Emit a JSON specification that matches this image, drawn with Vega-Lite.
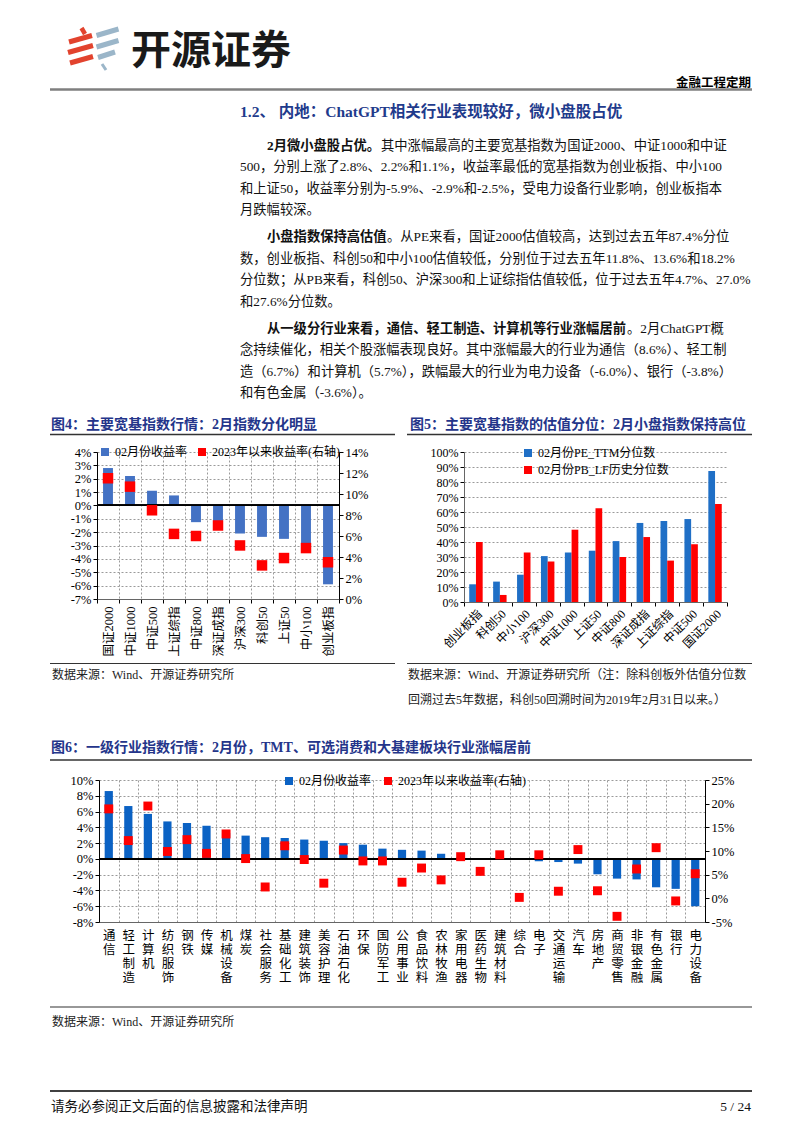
{
  "$schema": "https://vega.github.io/schema/vega-lite/v6.json",
  "padding": 0,
  "background": "white",
  "spacing": 0,
  "resolve": {"scale": {"color": "independent"}, "legend": {"color": "independent"}},
  "config": {
    "view": {"stroke": null},
    "font": "Liberation Serif, Noto Sans CJK SC",
    "text": {"font": "Liberation Serif, Noto Sans CJK SC"},
    "axis": {"labelFont": "Liberation Serif, Noto Sans CJK SC", "labelFontSize": 12.5, "labelColor": "#000", "domainColor": "#000", "tickColor": "#000", "tickSize": 4, "labelOverlap": false},
    "legend": {"labelFont": "Liberation Serif, Noto Sans CJK SC", "labelFontSize": 12, "labelColor": "#000"}
  },
  "vconcat": [
    {
      "width": 799,
      "height": 442,
      "layer": [
        {"data": {"values": [{}]}, "mark": {"type": "rule", "opacity": 0}, "encoding": {"x": {"datum": 0, "type": "quantitative", "scale": {"domain": [0, 799], "nice": false, "zero": false}, "axis": null}, "x2": {"datum": 799}, "y": {"datum": 0, "type": "quantitative", "scale": {"domain": [0, 442], "reverse": true, "nice": false, "zero": false}, "axis": null}, "y2": {"datum": 442}}},
        {"data": {"values": [{}]}, "mark": {"type": "rule", "color": "#E2432E", "strokeWidth": 4.5, "strokeCap": "butt"}, "encoding": {"x": {"datum": 81.5, "type": "quantitative", "scale": {"domain": [0, 799], "nice": false, "zero": false}, "axis": null}, "x2": {"datum": 85}, "y": {"datum": 28, "type": "quantitative", "scale": {"domain": [0, 442], "reverse": true, "nice": false, "zero": false}, "axis": null}, "y2": {"datum": 34}}},
        {"data": {"values": [{}]}, "mark": {"type": "rule", "color": "#E2432E", "strokeWidth": 5, "strokeCap": "butt"}, "encoding": {"x": {"datum": 69, "type": "quantitative", "scale": {"domain": [0, 799], "nice": false, "zero": false}, "axis": null}, "x2": {"datum": 92}, "y": {"datum": 42, "type": "quantitative", "scale": {"domain": [0, 442], "reverse": true, "nice": false, "zero": false}, "axis": null}, "y2": {"datum": 35.5}}},
        {"data": {"values": [{}]}, "mark": {"type": "rule", "color": "#E2432E", "strokeWidth": 5, "strokeCap": "butt"}, "encoding": {"x": {"datum": 68, "type": "quantitative", "scale": {"domain": [0, 799], "nice": false, "zero": false}, "axis": null}, "x2": {"datum": 93}, "y": {"datum": 52.5, "type": "quantitative", "scale": {"domain": [0, 442], "reverse": true, "nice": false, "zero": false}, "axis": null}, "y2": {"datum": 45.5}}},
        {"data": {"values": [{}]}, "mark": {"type": "rule", "color": "#E2432E", "strokeWidth": 5, "strokeCap": "butt"}, "encoding": {"x": {"datum": 70, "type": "quantitative", "scale": {"domain": [0, 799], "nice": false, "zero": false}, "axis": null}, "x2": {"datum": 93}, "y": {"datum": 63, "type": "quantitative", "scale": {"domain": [0, 442], "reverse": true, "nice": false, "zero": false}, "axis": null}, "y2": {"datum": 56.5}}},
        {"data": {"values": [{}]}, "mark": {"type": "rule", "color": "#9BB6C9", "strokeWidth": 5, "strokeCap": "butt"}, "encoding": {"x": {"datum": 96.5, "type": "quantitative", "scale": {"domain": [0, 799], "nice": false, "zero": false}, "axis": null}, "x2": {"datum": 118.5}, "y": {"datum": 35.5, "type": "quantitative", "scale": {"domain": [0, 442], "reverse": true, "nice": false, "zero": false}, "axis": null}, "y2": {"datum": 29}}},
        {"data": {"values": [{}]}, "mark": {"type": "rule", "color": "#9BB6C9", "strokeWidth": 5, "strokeCap": "butt"}, "encoding": {"x": {"datum": 96.5, "type": "quantitative", "scale": {"domain": [0, 799], "nice": false, "zero": false}, "axis": null}, "x2": {"datum": 118.5}, "y": {"datum": 47, "type": "quantitative", "scale": {"domain": [0, 442], "reverse": true, "nice": false, "zero": false}, "axis": null}, "y2": {"datum": 40.5}}},
        {"data": {"values": [{}]}, "mark": {"type": "rule", "color": "#9BB6C9", "strokeWidth": 5, "strokeCap": "butt"}, "encoding": {"x": {"datum": 98, "type": "quantitative", "scale": {"domain": [0, 799], "nice": false, "zero": false}, "axis": null}, "x2": {"datum": 115}, "y": {"datum": 57.5, "type": "quantitative", "scale": {"domain": [0, 442], "reverse": true, "nice": false, "zero": false}, "axis": null}, "y2": {"datum": 52}}},
        {"data": {"values": [{}]}, "mark": {"type": "rule", "color": "#9BB6C9", "strokeWidth": 3, "strokeCap": "butt"}, "encoding": {"x": {"datum": 102, "type": "quantitative", "scale": {"domain": [0, 799], "nice": false, "zero": false}, "axis": null}, "x2": {"datum": 106}, "y": {"datum": 64, "type": "quantitative", "scale": {"domain": [0, 442], "reverse": true, "nice": false, "zero": false}, "axis": null}, "y2": {"datum": 70}}},
        {"data": {"values": [{"t": "开源证券"}]}, "mark": {"type": "text", "align": "left", "baseline": "top", "font": "Noto Sans CJK SC", "fontSize": 40, "fontWeight": "bold", "color": "#1a1a1a"}, "encoding": {"x": {"datum": 131, "type": "quantitative", "scale": {"domain": [0, 799], "nice": false, "zero": false}, "axis": null}, "y": {"datum": 32, "type": "quantitative", "scale": {"domain": [0, 442], "reverse": true, "nice": false, "zero": false}, "axis": null}, "text": {"field": "t", "type": "nominal"}}},
        {"data": {"values": [{"t": "金融工程定期"}]}, "mark": {"type": "text", "align": "right", "baseline": "top", "font": "Noto Sans CJK SC", "fontSize": 12.5, "fontWeight": "bold", "color": "#000"}, "encoding": {"x": {"datum": 751, "type": "quantitative", "scale": {"domain": [0, 799], "nice": false, "zero": false}, "axis": null}, "y": {"datum": 76.5, "type": "quantitative", "scale": {"domain": [0, 442], "reverse": true, "nice": false, "zero": false}, "axis": null}, "text": {"field": "t", "type": "nominal"}}},
        {"data": {"values": [{}]}, "mark": {"type": "rule", "color": "#7f7f7f", "strokeWidth": 2.5}, "encoding": {"x": {"datum": 50, "type": "quantitative", "scale": {"domain": [0, 799], "nice": false, "zero": false}, "axis": null}, "x2": {"datum": 752}, "y": {"datum": 89.5, "type": "quantitative", "scale": {"domain": [0, 442], "reverse": true, "nice": false, "zero": false}, "axis": null}}},
        {"data": {"values": [{"t": "1.2、 内地：ChatGPT相关行业表现较好，微小盘股占优"}]}, "mark": {"type": "text", "align": "left", "baseline": "top", "fontSize": 15.5, "fontWeight": "bold", "color": "#1F3B8C"}, "encoding": {"x": {"datum": 240, "type": "quantitative", "scale": {"domain": [0, 799], "nice": false, "zero": false}, "axis": null}, "y": {"datum": 104.5, "type": "quantitative", "scale": {"domain": [0, 442], "reverse": true, "nice": false, "zero": false}, "axis": null}, "text": {"field": "t", "type": "nominal"}}},
        {"data": {"values": [{"t": "2月微小盘股占优。"}]}, "mark": {"type": "text", "align": "left", "baseline": "top", "fontSize": 13.3, "fontWeight": "bold", "color": "#111"}, "encoding": {"x": {"datum": 267, "type": "quantitative", "scale": {"domain": [0, 799], "nice": false, "zero": false}, "axis": null}, "y": {"datum": 138.5, "type": "quantitative", "scale": {"domain": [0, 442], "reverse": true, "nice": false, "zero": false}, "axis": null}, "text": {"field": "t", "type": "nominal"}}},
        {"data": {"values": [{"t": "其中涨幅最高的主要宽基指数为国证2000、中证1000和中证"}]}, "mark": {"type": "text", "align": "left", "baseline": "top", "fontSize": 13.3, "color": "#111"}, "encoding": {"x": {"datum": 381, "type": "quantitative", "scale": {"domain": [0, 799], "nice": false, "zero": false}, "axis": null}, "y": {"datum": 138.5, "type": "quantitative", "scale": {"domain": [0, 442], "reverse": true, "nice": false, "zero": false}, "axis": null}, "text": {"field": "t", "type": "nominal"}}},
        {"data": {"values": [{"t": ["500，分别上涨了2.8%、2.2%和1.1%，收益率最低的宽基指数为创业板指、中小100", "和上证50，收益率分别为-5.9%、-2.9%和-2.5%，受电力设备行业影响，创业板指本", "月跌幅较深。"]}]}, "mark": {"type": "text", "align": "left", "baseline": "top", "fontSize": 13.3, "lineHeight": 21.5, "color": "#111"}, "encoding": {"x": {"datum": 240, "type": "quantitative", "scale": {"domain": [0, 799], "nice": false, "zero": false}, "axis": null}, "y": {"datum": 160, "type": "quantitative", "scale": {"domain": [0, 442], "reverse": true, "nice": false, "zero": false}, "axis": null}, "text": {"field": "t", "type": "nominal"}}},
        {"data": {"values": [{"t": "小盘指数保持高估值"}]}, "mark": {"type": "text", "align": "left", "baseline": "top", "fontSize": 13.3, "fontWeight": "bold", "color": "#111"}, "encoding": {"x": {"datum": 267, "type": "quantitative", "scale": {"domain": [0, 799], "nice": false, "zero": false}, "axis": null}, "y": {"datum": 230, "type": "quantitative", "scale": {"domain": [0, 442], "reverse": true, "nice": false, "zero": false}, "axis": null}, "text": {"field": "t", "type": "nominal"}}},
        {"data": {"values": [{"t": "。从PE来看，国证2000估值较高，达到过去五年87.4%分位"}]}, "mark": {"type": "text", "align": "left", "baseline": "top", "fontSize": 13.3, "color": "#111"}, "encoding": {"x": {"datum": 387, "type": "quantitative", "scale": {"domain": [0, 799], "nice": false, "zero": false}, "axis": null}, "y": {"datum": 230, "type": "quantitative", "scale": {"domain": [0, 442], "reverse": true, "nice": false, "zero": false}, "axis": null}, "text": {"field": "t", "type": "nominal"}}},
        {"data": {"values": [{"t": ["数，创业板指、科创50和中小100估值较低，分别位于过去五年11.8%、13.6%和18.2%", "分位数；从PB来看，科创50、沪深300和上证综指估值较低，位于过去五年4.7%、27.0%", "和27.6%分位数。"]}]}, "mark": {"type": "text", "align": "left", "baseline": "top", "fontSize": 13.3, "lineHeight": 21.5, "color": "#111"}, "encoding": {"x": {"datum": 240, "type": "quantitative", "scale": {"domain": [0, 799], "nice": false, "zero": false}, "axis": null}, "y": {"datum": 251.5, "type": "quantitative", "scale": {"domain": [0, 442], "reverse": true, "nice": false, "zero": false}, "axis": null}, "text": {"field": "t", "type": "nominal"}}},
        {"data": {"values": [{"t": "从一级分行业来看，通信、轻工制造、计算机等行业涨幅居前"}]}, "mark": {"type": "text", "align": "left", "baseline": "top", "fontSize": 13.3, "fontWeight": "bold", "color": "#111"}, "encoding": {"x": {"datum": 267, "type": "quantitative", "scale": {"domain": [0, 799], "nice": false, "zero": false}, "axis": null}, "y": {"datum": 321.5, "type": "quantitative", "scale": {"domain": [0, 442], "reverse": true, "nice": false, "zero": false}, "axis": null}, "text": {"field": "t", "type": "nominal"}}},
        {"data": {"values": [{"t": "。2月ChatGPT概"}]}, "mark": {"type": "text", "align": "left", "baseline": "top", "fontSize": 13.3, "color": "#111"}, "encoding": {"x": {"datum": 627, "type": "quantitative", "scale": {"domain": [0, 799], "nice": false, "zero": false}, "axis": null}, "y": {"datum": 321.5, "type": "quantitative", "scale": {"domain": [0, 442], "reverse": true, "nice": false, "zero": false}, "axis": null}, "text": {"field": "t", "type": "nominal"}}},
        {"data": {"values": [{"t": ["念持续催化，相关个股涨幅表现良好。其中涨幅最大的行业为通信（8.6%）、轻工制", "造（6.7%）和计算机（5.7%），跌幅最大的行业为电力设备（-6.0%）、银行（-3.8%）", "和有色金属（-3.6%）。"]}]}, "mark": {"type": "text", "align": "left", "baseline": "top", "fontSize": 13.3, "lineHeight": 21.5, "color": "#111"}, "encoding": {"x": {"datum": 240, "type": "quantitative", "scale": {"domain": [0, 799], "nice": false, "zero": false}, "axis": null}, "y": {"datum": 343, "type": "quantitative", "scale": {"domain": [0, 442], "reverse": true, "nice": false, "zero": false}, "axis": null}, "text": {"field": "t", "type": "nominal"}}},
        {"data": {"values": [{"t": "图4：主要宽基指数行情：2月指数分化明显"}]}, "mark": {"type": "text", "align": "left", "baseline": "top", "fontSize": 14, "fontWeight": "bold", "color": "#24358A"}, "encoding": {"x": {"datum": 51, "type": "quantitative", "scale": {"domain": [0, 799], "nice": false, "zero": false}, "axis": null}, "y": {"datum": 418, "type": "quantitative", "scale": {"domain": [0, 442], "reverse": true, "nice": false, "zero": false}, "axis": null}, "text": {"field": "t", "type": "nominal"}}},
        {"data": {"values": [{"t": "图5：主要宽基指数的估值分位：2月小盘指数保持高位"}]}, "mark": {"type": "text", "align": "left", "baseline": "top", "fontSize": 14, "fontWeight": "bold", "color": "#24358A"}, "encoding": {"x": {"datum": 410, "type": "quantitative", "scale": {"domain": [0, 799], "nice": false, "zero": false}, "axis": null}, "y": {"datum": 418, "type": "quantitative", "scale": {"domain": [0, 442], "reverse": true, "nice": false, "zero": false}, "axis": null}, "text": {"field": "t", "type": "nominal"}}},
        {"data": {"values": [{}]}, "mark": {"type": "rule", "color": "#333", "strokeWidth": 1.3}, "encoding": {"x": {"datum": 50, "type": "quantitative", "scale": {"domain": [0, 799], "nice": false, "zero": false}, "axis": null}, "x2": {"datum": 395}, "y": {"datum": 434.5, "type": "quantitative", "scale": {"domain": [0, 442], "reverse": true, "nice": false, "zero": false}, "axis": null}}},
        {"data": {"values": [{}]}, "mark": {"type": "rule", "color": "#333", "strokeWidth": 1.3}, "encoding": {"x": {"datum": 407, "type": "quantitative", "scale": {"domain": [0, 799], "nice": false, "zero": false}, "axis": null}, "x2": {"datum": 752}, "y": {"datum": 434.5, "type": "quantitative", "scale": {"domain": [0, 442], "reverse": true, "nice": false, "zero": false}, "axis": null}}}
      ]
    },
    {
      "bounds": "flush",
      "spacing": 0,
      "resolve": {"scale": {"color": "independent"}, "legend": {"color": "independent"}},
      "hconcat": [
        {
          "width": 97,
          "height": 150,
          "data": {"values": [{}]},
          "mark": {"type": "rule", "opacity": 0},
          "encoding": {"x": {"datum": 0, "type": "quantitative", "scale": {"domain": [0, 97], "nice": false, "zero": false}, "axis": null}, "x2": {"datum": 97}, "y": {"datum": -10, "type": "quantitative", "scale": {"domain": [0, 150], "reverse": true, "nice": false, "zero": false}, "axis": null}, "y2": {"datum": 210}}
        },
        {
          "width": 242,
          "height": 147,
          "data": {"values": [
            {"name": "国证2000", "feb": 2.8, "ytd": 11.5},
            {"name": "中证1000", "feb": 2.2, "ytd": 10.7},
            {"name": "中证500", "feb": 1.1, "ytd": 8.45},
            {"name": "上证综指", "feb": 0.75, "ytd": 6.2},
            {"name": "中证800", "feb": -1.25, "ytd": 6.0},
            {"name": "深证成指", "feb": -1.8, "ytd": 7.0},
            {"name": "沪深300", "feb": -2.1, "ytd": 5.1},
            {"name": "科创50", "feb": -2.35, "ytd": 3.2},
            {"name": "上证50", "feb": -2.5, "ytd": 3.9},
            {"name": "中小100", "feb": -2.9, "ytd": 4.85},
            {"name": "创业板指", "feb": -5.9, "ytd": 3.5}
          ]},
          "layer": [
            {
              "mark": {"type": "bar", "width": {"band": 0.45}},
              "encoding": {
                "x": {"field": "name", "type": "nominal", "sort": null, "scale": {"paddingInner": 0, "paddingOuter": 0}, "axis": {"title": null, "labelAngle": -90, "labelFontSize": 12.5, "labelPadding": 3, "tickBand": "extent", "grid": true, "gridDash": [2, 2], "gridColor": "#9a9a9a", "domainColor": "#666", "tickSize": 4, "labelOverlap": false}},
                "y": {"field": "feb", "type": "quantitative", "scale": {"domain": [-7, 4], "nice": false}, "axis": {"title": null, "orient": "left", "values": [-7, -6, -5, -4, -3, -2, -1, 0, 1, 2, 3, 4], "labelExpr": "datum.value + '%'", "grid": true, "gridDash": [2, 2], "gridColor": "#9a9a9a", "labelPadding": 2, "labelOverlap": false, "labelFlush": false}},
                "color": {"datum": "02月份收益率", "type": "nominal", "scale": {"domain": ["02月份收益率", "2023年以来收益率(右轴)"], "range": ["#4472C4", "#FF0000"]}, "legend": {"title": null, "orient": "none", "legendX": 2, "legendY": -6, "direction": "horizontal", "columns": 2, "columnPadding": 8, "symbolType": "square", "symbolSize": 64, "symbolStrokeWidth": 0, "labelFontSize": 12}}
              }
            },
            {"mark": {"type": "rule", "color": "#000", "strokeWidth": 1.2}, "encoding": {"y": {"datum": 0, "type": "quantitative", "scale": {"domain": [-7, 4], "nice": false}, "axis": null}}},
            {
              "mark": {"type": "square", "size": 110, "opacity": 1},
              "encoding": {
                "x": {"field": "name", "type": "nominal", "sort": null},
                "y": {"field": "ytd", "type": "quantitative", "scale": {"domain": [0, 14], "nice": false}, "axis": {"title": null, "orient": "right", "values": [0, 2, 4, 6, 8, 10, 12, 14], "labelExpr": "datum.value + '%'", "grid": false, "labelOverlap": false, "labelFlush": false}},
                "color": {"datum": "2023年以来收益率(右轴)", "type": "nominal"}
              }
            }
          ],
          "resolve": {"scale": {"y": "independent"}}
        },
        {"width": 125, "height": 150, "data": {"values": []}, "mark": "point"},
        {
          "width": 263,
          "height": 150,
          "data": {"values": [
            {"name": "创业板指", "series": "02月份PE_TTM分位数", "v": 11.8},
            {"name": "创业板指", "series": "02月份PB_LF历史分位数", "v": 40.0},
            {"name": "科创50", "series": "02月份PE_TTM分位数", "v": 13.6},
            {"name": "科创50", "series": "02月份PB_LF历史分位数", "v": 4.7},
            {"name": "中小100", "series": "02月份PE_TTM分位数", "v": 18.2},
            {"name": "中小100", "series": "02月份PB_LF历史分位数", "v": 33.0},
            {"name": "沪深300", "series": "02月份PE_TTM分位数", "v": 30.6},
            {"name": "沪深300", "series": "02月份PB_LF历史分位数", "v": 27.0},
            {"name": "中证1000", "series": "02月份PE_TTM分位数", "v": 33.0},
            {"name": "中证1000", "series": "02月份PB_LF历史分位数", "v": 48.2},
            {"name": "上证50", "series": "02月份PE_TTM分位数", "v": 34.2},
            {"name": "上证50", "series": "02月份PB_LF历史分位数", "v": 62.5},
            {"name": "中证800", "series": "02月份PE_TTM分位数", "v": 40.6},
            {"name": "中证800", "series": "02月份PB_LF历史分位数", "v": 30.0},
            {"name": "深证成指", "series": "02月份PE_TTM分位数", "v": 52.7},
            {"name": "深证成指", "series": "02月份PB_LF历史分位数", "v": 43.3},
            {"name": "上证综指", "series": "02月份PE_TTM分位数", "v": 54.0},
            {"name": "上证综指", "series": "02月份PB_LF历史分位数", "v": 27.6},
            {"name": "中证500", "series": "02月份PE_TTM分位数", "v": 55.3},
            {"name": "中证500", "series": "02月份PB_LF历史分位数", "v": 38.5},
            {"name": "国证2000", "series": "02月份PE_TTM分位数", "v": 87.4},
            {"name": "国证2000", "series": "02月份PB_LF历史分位数", "v": 65.4}
          ]},
          "mark": {"type": "bar"},
          "encoding": {
            "x": {"field": "name", "type": "nominal", "sort": null, "scale": {"paddingInner": 0, "paddingOuter": 0}, "axis": {"title": null, "labelAngle": -45, "tickBand": "extent", "grid": false, "domainColor": "#666", "labelFontSize": 12, "labelOverlap": false, "labelPadding": 2, "tickSize": 4}},
            "xOffset": {"field": "series", "type": "nominal", "sort": null, "scale": {"paddingInner": 0, "paddingOuter": 0.78}},
            "y": {"field": "v", "type": "quantitative", "scale": {"domain": [0, 100], "nice": false}, "axis": {"title": null, "values": [0, 10, 20, 30, 40, 50, 60, 70, 80, 90, 100], "labelExpr": "datum.value + '%'", "grid": true, "gridDash": [2, 2], "gridColor": "#9a9a9a", "labelFontSize": 12, "domainColor": "#666", "labelOverlap": false, "labelFlush": false}},
            "color": {"field": "series", "type": "nominal", "sort": null, "scale": {"domain": ["02月份PE_TTM分位数", "02月份PB_LF历史分位数"], "range": ["#1F6FC6", "#FF0000"]}, "legend": {"title": null, "orient": "none", "legendX": 58, "legendY": -5, "direction": "vertical", "columns": 1, "rowPadding": 5, "symbolType": "square", "symbolSize": 64, "symbolStrokeWidth": 0, "labelFontSize": 12}}
          }
        }
      ]
    },
    {
      "width": 799,
      "height": 108,
      "layer": [
        {"data": {"values": [{}]}, "mark": {"type": "rule", "opacity": 0}, "encoding": {"x": {"datum": 0, "type": "quantitative", "scale": {"domain": [0, 799], "nice": false, "zero": false}, "axis": null}, "x2": {"datum": 799}, "y": {"datum": 0, "type": "quantitative", "scale": {"domain": [0, 108], "reverse": true, "nice": false, "zero": false}, "axis": null}, "y2": {"datum": 108}}},
        {"data": {"values": [{}]}, "mark": {"type": "rule", "color": "#333", "strokeWidth": 1.2}, "encoding": {"x": {"datum": 50, "type": "quantitative", "scale": {"domain": [0, 799], "nice": false, "zero": false}, "axis": null}, "x2": {"datum": 395}, "y": {"datum": 1.5, "type": "quantitative", "scale": {"domain": [0, 108], "reverse": true, "nice": false, "zero": false}, "axis": null}}},
        {"data": {"values": [{}]}, "mark": {"type": "rule", "color": "#333", "strokeWidth": 1.2}, "encoding": {"x": {"datum": 407, "type": "quantitative", "scale": {"domain": [0, 799], "nice": false, "zero": false}, "axis": null}, "x2": {"datum": 752}, "y": {"datum": 1.5, "type": "quantitative", "scale": {"domain": [0, 108], "reverse": true, "nice": false, "zero": false}, "axis": null}}},
        {"data": {"values": [{"t": "数据来源：Wind、开源证券研究所"}]}, "mark": {"type": "text", "align": "left", "baseline": "top", "fontSize": 12, "color": "#222"}, "encoding": {"x": {"datum": 52, "type": "quantitative", "scale": {"domain": [0, 799], "nice": false, "zero": false}, "axis": null}, "y": {"datum": 8, "type": "quantitative", "scale": {"domain": [0, 108], "reverse": true, "nice": false, "zero": false}, "axis": null}, "text": {"field": "t", "type": "nominal"}}},
        {"data": {"values": [{"t": ["数据来源：Wind、开源证券研究所（注：除科创板外估值分位数", "回溯过去5年数据，科创50回溯时间为2019年2月31日以来。）"]}]}, "mark": {"type": "text", "align": "left", "baseline": "top", "fontSize": 12, "lineHeight": 25, "color": "#222"}, "encoding": {"x": {"datum": 408, "type": "quantitative", "scale": {"domain": [0, 799], "nice": false, "zero": false}, "axis": null}, "y": {"datum": 8, "type": "quantitative", "scale": {"domain": [0, 108], "reverse": true, "nice": false, "zero": false}, "axis": null}, "text": {"field": "t", "type": "nominal"}}},
        {"data": {"values": [{"t": "图6：一级行业指数行情：2月份，TMT、可选消费和大基建板块行业涨幅居前"}]}, "mark": {"type": "text", "align": "left", "baseline": "top", "fontSize": 14, "fontWeight": "bold", "color": "#24358A"}, "encoding": {"x": {"datum": 51, "type": "quantitative", "scale": {"domain": [0, 799], "nice": false, "zero": false}, "axis": null}, "y": {"datum": 79, "type": "quantitative", "scale": {"domain": [0, 108], "reverse": true, "nice": false, "zero": false}, "axis": null}, "text": {"field": "t", "type": "nominal"}}},
        {"data": {"values": [{}]}, "mark": {"type": "rule", "color": "#333", "strokeWidth": 1.3}, "encoding": {"x": {"datum": 50, "type": "quantitative", "scale": {"domain": [0, 799], "nice": false, "zero": false}, "axis": null}, "x2": {"datum": 752}, "y": {"datum": 98, "type": "quantitative", "scale": {"domain": [0, 108], "reverse": true, "nice": false, "zero": false}, "axis": null}}}
      ]
    },
    {
      "bounds": "flush",
      "spacing": 0,
      "resolve": {"scale": {"color": "independent"}, "legend": {"color": "independent"}},
      "hconcat": [
        {
          "width": 99,
          "height": 142,
          "data": {"values": [{}]},
          "mark": {"type": "rule", "opacity": 0},
          "encoding": {"x": {"datum": 0, "type": "quantitative", "scale": {"domain": [0, 99], "nice": false, "zero": false}, "axis": null}, "x2": {"datum": 99}, "y": {"datum": -10, "type": "quantitative", "scale": {"domain": [0, 142], "reverse": true, "nice": false, "zero": false}, "axis": null}, "y2": {"datum": 212}}
        },
        {
          "width": 606,
          "height": 142,
          "data": {"values": [
            {"name": "通信", "feb": 8.6, "ytd": 18.9},
            {"name": "轻工制造", "feb": 6.7, "ytd": 12.2},
            {"name": "计算机", "feb": 5.7, "ytd": 19.5},
            {"name": "纺织服饰", "feb": 4.75, "ytd": 9.9},
            {"name": "钢铁", "feb": 4.55, "ytd": 12.4},
            {"name": "传媒", "feb": 4.2, "ytd": 9.5},
            {"name": "机械设备", "feb": 3.3, "ytd": 13.6},
            {"name": "煤炭", "feb": 2.95, "ytd": 8.4},
            {"name": "社会服务", "feb": 2.75, "ytd": 2.4},
            {"name": "基础化工", "feb": 2.65, "ytd": 11.1},
            {"name": "建筑装饰", "feb": 2.45, "ytd": 8.2},
            {"name": "美容护理", "feb": 2.3, "ytd": 3.2},
            {"name": "石油石化", "feb": 2.0, "ytd": 10.2},
            {"name": "环保", "feb": 1.8, "ytd": 7.9},
            {"name": "国防军工", "feb": 1.3, "ytd": 7.9},
            {"name": "公用事业", "feb": 1.15, "ytd": 3.4},
            {"name": "食品饮料", "feb": 1.05, "ytd": 6.4},
            {"name": "农林牧渔", "feb": 0.65, "ytd": 3.9},
            {"name": "家用电器", "feb": 0.25, "ytd": 8.8},
            {"name": "医药生物", "feb": 0.1, "ytd": 5.7},
            {"name": "建筑材料", "feb": 0.05, "ytd": 9.2},
            {"name": "综合", "feb": 0.0, "ytd": 0.2},
            {"name": "电子", "feb": -0.3, "ytd": 9.2},
            {"name": "交通运输", "feb": -0.4, "ytd": 1.5},
            {"name": "汽车", "feb": -0.6, "ytd": 10.3},
            {"name": "房地产", "feb": -1.95, "ytd": 1.6},
            {"name": "商贸零售", "feb": -2.5, "ytd": -3.8},
            {"name": "非银金融", "feb": -2.6, "ytd": 6.2},
            {"name": "有色金属", "feb": -3.6, "ytd": 10.7},
            {"name": "银行", "feb": -3.8, "ytd": -0.55},
            {"name": "电力设备", "feb": -6.0, "ytd": 5.2}
          ]},
          "layer": [
            {
              "mark": {"type": "bar", "width": {"band": 0.42}},
              "encoding": {
                "x": {"field": "name", "type": "nominal", "sort": null, "scale": {"paddingInner": 0, "paddingOuter": 0}, "axis": {"title": null, "labelAngle": 0, "labelExpr": "split(datum.label, '')", "labelBaseline": "top", "labelAlign": "center", "labelLineHeight": 14, "labelFontSize": 12.5, "labelPadding": 7, "tickBand": "extent", "ticks": false, "grid": true, "gridDash": [2, 2], "gridColor": "#9a9a9a", "domainColor": "#666", "labelOverlap": false, "labelBound": false}},
                "y": {"field": "feb", "type": "quantitative", "scale": {"domain": [-8, 10], "nice": false}, "axis": {"title": null, "orient": "left", "values": [-8, -6, -4, -2, 0, 2, 4, 6, 8, 10], "labelExpr": "datum.value + '%'", "grid": true, "gridDash": [2, 2], "gridColor": "#9a9a9a", "labelPadding": 2, "labelOverlap": false, "labelFlush": false}},
                "color": {"datum": "02月份收益率", "type": "nominal", "scale": {"domain": ["02月份收益率", "2023年以来收益率(右轴)"], "range": ["#0B62C4", "#FF0000"]}, "legend": {"title": null, "orient": "none", "legendX": 184, "legendY": -5, "direction": "horizontal", "columns": 2, "columnPadding": 10, "symbolType": "square", "symbolSize": 64, "symbolStrokeWidth": 0, "labelFontSize": 12}}
              }
            },
            {"mark": {"type": "rule", "color": "#000", "strokeWidth": 1.2}, "encoding": {"y": {"datum": 0, "type": "quantitative", "scale": {"domain": [-8, 10], "nice": false}, "axis": null}}},
            {
              "mark": {"type": "square", "size": 80, "opacity": 1},
              "encoding": {
                "x": {"field": "name", "type": "nominal", "sort": null},
                "y": {"field": "ytd", "type": "quantitative", "scale": {"domain": [-5, 25], "nice": false}, "axis": {"title": null, "orient": "right", "values": [-5, 0, 5, 10, 15, 20, 25], "labelExpr": "datum.value + '%'", "grid": false, "labelOverlap": false, "labelFlush": false}},
                "color": {"datum": "2023年以来收益率(右轴)", "type": "nominal"}
              }
            }
          ],
          "resolve": {"scale": {"y": "independent"}}
        }
      ]
    },
    {
      "width": 799,
      "height": 141,
      "layer": [
        {"data": {"values": [{}]}, "mark": {"type": "rule", "opacity": 0}, "encoding": {"x": {"datum": 0, "type": "quantitative", "scale": {"domain": [0, 799], "nice": false, "zero": false}, "axis": null}, "x2": {"datum": 799}, "y": {"datum": 0, "type": "quantitative", "scale": {"domain": [0, 141], "reverse": true, "nice": false, "zero": false}, "axis": null}, "y2": {"datum": 141}}},
        {"data": {"values": [{}]}, "mark": {"type": "rule", "color": "#333", "strokeWidth": 1.2}, "encoding": {"x": {"datum": 50, "type": "quantitative", "scale": {"domain": [0, 799], "nice": false, "zero": false}, "axis": null}, "x2": {"datum": 752}, "y": {"datum": 15, "type": "quantitative", "scale": {"domain": [0, 141], "reverse": true, "nice": false, "zero": false}, "axis": null}}},
        {"data": {"values": [{"t": "数据来源：Wind、开源证券研究所"}]}, "mark": {"type": "text", "align": "left", "baseline": "top", "fontSize": 12, "color": "#222"}, "encoding": {"x": {"datum": 52, "type": "quantitative", "scale": {"domain": [0, 799], "nice": false, "zero": false}, "axis": null}, "y": {"datum": 25, "type": "quantitative", "scale": {"domain": [0, 141], "reverse": true, "nice": false, "zero": false}, "axis": null}, "text": {"field": "t", "type": "nominal"}}},
        {"data": {"values": [{}]}, "mark": {"type": "rule", "color": "#000", "strokeWidth": 1.5}, "encoding": {"x": {"datum": 50, "type": "quantitative", "scale": {"domain": [0, 799], "nice": false, "zero": false}, "axis": null}, "x2": {"datum": 752}, "y": {"datum": 99, "type": "quantitative", "scale": {"domain": [0, 141], "reverse": true, "nice": false, "zero": false}, "axis": null}}},
        {"data": {"values": [{"t": "请务必参阅正文后面的信息披露和法律声明"}]}, "mark": {"type": "text", "align": "left", "baseline": "top", "fontSize": 13.5, "color": "#111"}, "encoding": {"x": {"datum": 51, "type": "quantitative", "scale": {"domain": [0, 799], "nice": false, "zero": false}, "axis": null}, "y": {"datum": 108, "type": "quantitative", "scale": {"domain": [0, 141], "reverse": true, "nice": false, "zero": false}, "axis": null}, "text": {"field": "t", "type": "nominal"}}},
        {"data": {"values": [{"t": "5 / 24"}]}, "mark": {"type": "text", "align": "right", "baseline": "top", "fontSize": 13.5, "color": "#111"}, "encoding": {"x": {"datum": 751, "type": "quantitative", "scale": {"domain": [0, 799], "nice": false, "zero": false}, "axis": null}, "y": {"datum": 108, "type": "quantitative", "scale": {"domain": [0, 141], "reverse": true, "nice": false, "zero": false}, "axis": null}, "text": {"field": "t", "type": "nominal"}}}
      ]
    }
  ]
}
